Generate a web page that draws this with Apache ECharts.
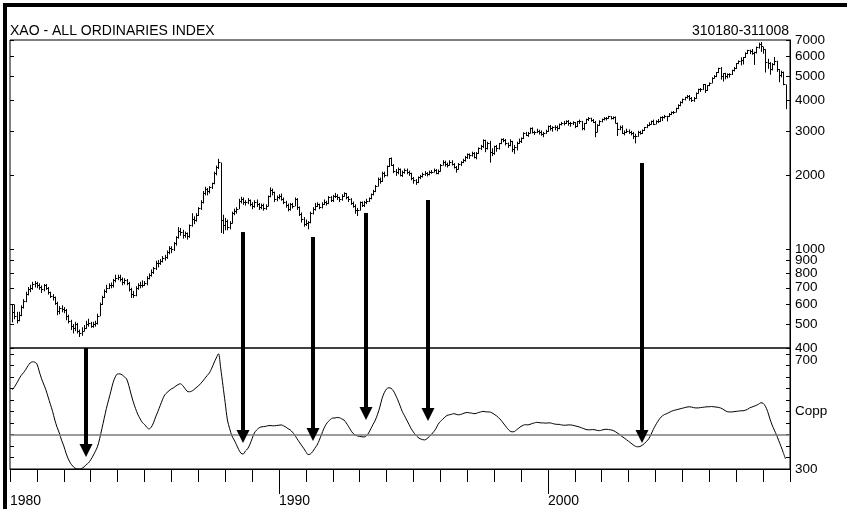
<!DOCTYPE html>
<html><head><meta charset="utf-8">
<script src="https://cdn.jsdelivr.net/npm/echarts@6/dist/echarts.min.js"></script>
<style>html,body{margin:0;padding:0;background:#fff}#c{width:847px;height:509px}</style>
</head><body><div id="c"></div>
<script>
const chartTitle = 'XAO - ALL ORDINARIES INDEX';
const rangeLabel = '310180-311008';
const startYear = 1980; // monthly bars from Jan 1980 (month-end)

const priceClose = [
 560,540,520,545,585,620,660,690,700,725,735,715,
 705,690,715,700,670,650,640,610,565,580,575,570,
 540,515,490,480,500,470,460,470,480,500,505,490,
 500,505,540,600,640,680,700,720,715,750,770,775,
 760,740,750,735,690,660,655,700,715,720,720,730,
 770,790,810,840,880,880,900,920,930,980,1010,1000,
 1060,1120,1190,1175,1140,1160,1130,1250,1330,1320,1380,1470,
 1560,1690,1750,1720,1790,1850,2030,2150,2250,1320,1250,1300,
 1230,1280,1400,1430,1460,1570,1590,1560,1550,1580,1530,1490,
 1560,1520,1480,1510,1470,1500,1640,1740,1700,1600,1620,1650,
 1600,1560,1510,1460,1520,1500,1600,1480,1390,1330,1270,1280,
 1290,1400,1460,1500,1530,1480,1530,1560,1540,1620,1580,1650,
 1640,1620,1590,1650,1690,1620,1600,1540,1500,1440,1440,1550,
 1510,1550,1570,1610,1670,1720,1810,1920,1890,2040,1990,2170,
 2330,2200,2080,2050,2110,2000,2060,2100,2050,2030,1940,1910,
 1870,1960,1970,2020,2030,2010,2060,2060,2100,2040,2080,2200,
 2260,2210,2200,2260,2220,2150,2120,2210,2260,2290,2360,2420,
 2400,2450,2360,2460,2560,2620,2760,2560,2700,2480,2460,2610,
 2560,2680,2780,2770,2680,2640,2740,2540,2590,2700,2750,2810,
 2960,2900,2960,3090,2980,2980,3010,2990,2910,2950,3000,3150,
 3100,3120,3130,3100,3200,3250,3250,3300,3230,3250,3260,3150,
 3290,3290,3100,3230,3350,3380,3320,3280,2990,3180,3300,3360,
 3380,3400,3440,3380,3430,3250,3070,3130,2960,2980,3010,2980,
 2950,2860,2870,2990,2950,3030,3110,3190,3210,3300,3220,3310,
 3290,3420,3420,3440,3450,3530,3590,3590,3720,3840,3920,4050,
 4110,4150,4070,3990,4100,4280,4420,4420,4640,4400,4590,4710,
 4930,5000,5190,5380,5030,5130,5010,5110,5100,5300,5390,5640,
 5760,5800,5960,6230,6380,6330,6220,6250,6580,6770,6600,6420,
 5690,5670,5360,5600,5770,5330,5050,5200,4630,3990
];
const priceHigh = [
 600,600,560,560,595,630,675,705,720,740,745,740,
 730,715,725,725,705,675,660,645,615,590,595,585,
 575,545,520,500,510,505,475,485,495,515,525,510,
 510,515,550,610,650,690,720,730,735,760,790,790,
 790,770,765,760,740,700,680,710,730,740,750,745,
 780,800,830,850,900,905,915,940,950,990,1030,1030,
 1070,1130,1230,1220,1200,1180,1170,1260,1400,1360,1400,1480,
 1580,1720,1790,1770,1800,1860,2060,2180,2320,2240,1380,1340,
 1320,1300,1420,1460,1480,1600,1630,1620,1580,1610,1590,1550,
 1580,1590,1540,1530,1530,1520,1650,1780,1760,1710,1650,1670,
 1680,1620,1570,1530,1540,1540,1620,1610,1490,1410,1350,1320,
 1300,1420,1480,1540,1550,1530,1550,1590,1570,1640,1640,1660,
 1690,1670,1630,1670,1700,1690,1640,1610,1560,1520,1470,1560,
 1560,1570,1600,1620,1680,1740,1820,1950,1950,2060,2060,2180,
 2340,2350,2210,2110,2140,2120,2080,2120,2120,2080,2040,1960,
 1920,1970,2000,2040,2070,2050,2080,2090,2120,2110,2100,2210,
 2290,2280,2240,2290,2290,2230,2170,2230,2270,2320,2380,2440,
 2440,2480,2470,2470,2580,2640,2780,2770,2720,2740,2560,2620,
 2640,2690,2800,2810,2790,2700,2780,2740,2640,2720,2800,2830,
 2970,2980,2980,3100,3110,3010,3070,3040,3020,2980,3040,3160,
 3180,3140,3170,3160,3220,3270,3300,3320,3330,3270,3290,3260,
 3300,3340,3300,3240,3370,3420,3400,3360,3300,3200,3320,3370,
 3420,3420,3460,3450,3440,3440,3250,3160,3170,3020,3070,3050,
 3010,2980,2930,3010,3010,3050,3120,3200,3260,3310,3340,3320,
 3360,3430,3450,3490,3460,3550,3600,3620,3730,3850,3960,4060,
 4130,4200,4200,4120,4120,4300,4450,4480,4650,4650,4600,4720,
 4950,5050,5200,5410,5440,5140,5160,5130,5140,5310,5450,5650,
 5790,5960,5980,6240,6390,6400,6440,6280,6590,6830,6870,6560,
 6420,5880,5700,5650,5980,5770,5340,5260,5220,4630
];
const priceLow = [
 510,525,505,515,540,580,615,655,675,690,705,700,
 690,670,680,690,660,640,625,600,545,550,560,555,
 520,505,475,460,470,460,445,450,470,480,490,485,
 485,490,500,540,600,640,670,695,700,705,740,755,
 745,720,725,720,680,640,640,650,690,700,705,715,
 720,760,780,800,830,850,870,890,905,920,960,970,
 990,1040,1110,1140,1110,1120,1100,1120,1240,1270,1300,1370,
 1450,1540,1660,1660,1690,1760,1840,2000,2120,1170,1160,1200,
 1200,1210,1280,1380,1400,1460,1540,1520,1510,1530,1500,1460,
 1480,1490,1450,1460,1440,1450,1500,1630,1660,1560,1570,1600,
 1580,1530,1480,1430,1440,1470,1500,1450,1370,1290,1240,1250,
 1210,1280,1390,1440,1490,1460,1470,1520,1510,1530,1560,1560,
 1620,1590,1560,1580,1640,1600,1560,1520,1480,1400,1370,1440,
 1490,1490,1530,1560,1600,1660,1710,1800,1850,1880,1960,1980,
 2160,2180,2040,1990,2020,1980,1970,2030,2020,1990,1910,1850,
 1830,1860,1930,1960,1990,1980,2000,2030,2050,2020,2020,2070,
 2190,2170,2150,2190,2190,2130,2050,2110,2180,2240,2270,2330,
 2330,2380,2340,2320,2440,2530,2580,2480,2540,2250,2390,2420,
 2490,2540,2670,2720,2640,2580,2620,2480,2440,2520,2680,2700,
 2800,2880,2860,2950,2950,2910,2960,2920,2890,2850,2940,2990,
 3030,3000,3040,3010,3070,3180,3180,3220,3170,3140,3190,3100,
 3130,3220,3040,3040,3220,3310,3290,3250,2850,2990,3170,3270,
 3330,3330,3380,3360,3360,3240,2880,3040,2940,2900,2960,2940,
 2900,2800,2690,2860,2920,2940,3020,3100,3160,3200,3190,3210,
 3250,3280,3310,3390,3300,3440,3500,3530,3580,3700,3800,3900,
 4010,4080,4000,3950,3960,4070,4270,4340,4420,4300,4380,4580,
 4700,4920,4980,5170,4870,4780,4880,4920,4960,5080,5250,5370,
 5620,5560,5600,5960,6170,6170,6130,5580,6200,6490,6300,6190,
 5200,5380,5090,5300,5560,5230,4750,4970,4620,3700
];
const coppock = [
 575,585,598,612,625,634,645,658,668,672,671,665,
 640,615,595,575,550,525,500,470,445,425,400,380,
 355,335,320,310,303,300,300,302,307,315,321,332,
 345,360,377,405,440,475,510,540,570,600,620,630,
 630,627,620,613,590,560,533,510,490,475,462,455,
 445,439,445,460,481,500,520,540,557,565,572,578,
 582,588,593,596,590,580,570,568,570,575,582,588,
 596,605,615,625,634,650,668,685,700,650,590,530,
 470,440,415,401,385,368,355,352,362,370,385,405,
 425,435,442,446,447,448,450,451,450,450,451,452,
 453,450,446,440,436,428,418,406,394,383,372,360,
 350,352,360,372,383,400,420,440,455,465,472,477,
 477,479,478,474,470,460,448,435,424,418,415,413,
 412,411,415,425,440,455,470,490,515,545,565,578,
 582,580,572,557,540,520,500,485,470,455,440,428,
 418,410,405,402,401,405,412,420,429,440,455,465,
 472,480,486,488,490,492,490,488,489,492,495,496,
 495,494,492,493,496,498,500,499,498,498,495,490,
 485,478,470,460,450,440,432,429,430,436,442,448,
 452,454,453,455,458,460,462,461,460,460,459,460,
 460,458,456,455,455,453,452,452,453,453,452,450,
 448,446,443,440,437,436,436,437,436,434,433,435,
 437,438,437,436,434,430,425,420,413,408,402,396,
 390,384,379,377,378,382,388,396,405,420,437,452,
 465,476,484,489,492,496,500,503,505,507,509,511,
 513,515,516,515,513,512,512,513,514,515,516,516,
 517,516,515,514,512,508,503,499,498,498,499,500,
 501,502,502,504,507,512,515,518,521,525,530,528,
 518,500,475,453,435,418,398,378,357,335
];
const priceTicks = [400,500,600,700,800,900,1000,2000,3000,4000,5000,6000,7000];
const decadeTicks = [1990, 2000];
const decadeLabels = [1980, 1990, 2000];
const coppLevel = 420;
const arrowYears = [1982.83, 1988.66, 1991.26, 1993.23, 1995.54, 2003.49];
const arrowFromPrice = [400, 1175, 1122, 1403, 1583, 2233];
const arrowToCopp = [342, 390, 397, 470, 467, 390];

const FONT = '"Liberation Sans", Arial, Helvetica, sans-serif';
const monthEnd = i => startYear + (i + 1) / 12;
const bars = priceClose.map((c, i) => [monthEnd(i), priceHigh[i], priceLow[i], c]);
const coppData = coppock.map((v, i) => [monthEnd(i), v]);

const chart = echarts.init(document.getElementById('c'));

function renderBar(params, api) {
  const x = api.value(0);
  const hi = api.coord([x, api.value(1)]);
  const lo = api.coord([x, api.value(2)]);
  const cl = api.coord([x, api.value(3)]);
  const px = Math.round(hi[0]) + 0.5;
  const cy = Math.round(cl[1]) + 0.5;
  return {
    type: 'group',
    children: [
      { type: 'line', shape: { x1: px, y1: hi[1], x2: px, y2: lo[1] + 0.5 }, style: { stroke: '#000', lineWidth: 1 } },
      { type: 'line', shape: { x1: px, y1: cy, x2: px + 2, y2: cy }, style: { stroke: '#000', lineWidth: 1 } }
    ]
  };
}

const blackLine = { lineStyle: { color: '#000', width: 1 } };
const plain = v => String(v);

chart.setOption({
  animation: false,
  backgroundColor: '#fff',
  textStyle: { fontFamily: FONT },
  title: [
    { text: chartTitle, left: 10, top: 24, padding: 0,
      textStyle: { fontSize: 14, fontWeight: 'normal', color: '#000', fontFamily: FONT } },
    { text: rangeLabel, right: 58, top: 24, padding: 0,
      textStyle: { fontSize: 14, fontWeight: 'normal', color: '#000', fontFamily: FONT } }
  ],
  grid: [
    { left: 10, right: 57, top: 40, height: 308, show: true, borderColor: '#000', borderWidth: 1, backgroundColor: 'transparent' },
    { left: 10, right: 57, top: 348, height: 121, show: true, borderColor: '#000', borderWidth: 1, backgroundColor: 'transparent' }
  ],
  xAxis: [
    { gridIndex: 0, type: 'value', min: 1980, max: 2009, show: false },
    { gridIndex: 1, type: 'value', min: 1980, max: 2009, interval: 1, position: 'bottom', offset: 0,
      axisLine: blackLine, axisTick: { length: 13, lineStyle: { color: '#000' } },
      axisLabel: { show: false }, splitLine: { show: false } },
    { gridIndex: 1, type: 'value', min: 1980, max: 2009, position: 'bottom', offset: 0,
      axisLine: { show: false },
      axisTick: { customValues: decadeTicks, length: 25, lineStyle: { color: '#000' } },
      axisLabel: { customValues: decadeLabels, formatter: plain, align: 'left', margin: 25, fontSize: 14, color: '#000', fontFamily: FONT },
      splitLine: { show: false } }
  ],
  yAxis: [
    { gridIndex: 0, type: 'log', min: 400, max: 7000, position: 'right',
      axisLine: { show: true, lineStyle: { color: '#000' } },
      axisTick: { inside: true, length: 4, customValues: priceTicks, lineStyle: { color: '#000' } },
      axisLabel: { customValues: priceTicks, formatter: plain, fontSize: 13.5, color: '#000', margin: 5, fontFamily: FONT },
      splitLine: { show: false } },
    { gridIndex: 0, type: 'log', min: 400, max: 7000, position: 'left',
      axisLine: { show: false },
      axisTick: { inside: true, length: 4, customValues: priceTicks, lineStyle: { color: '#000' } },
      axisLabel: { show: false }, splitLine: { show: false } },
    { gridIndex: 1, type: 'value', min: 300, max: 720, interval: 40, position: 'right',
      axisLine: { show: true, lineStyle: { color: '#000' } },
      axisTick: { inside: true, length: 4, lineStyle: { color: '#000' } },
      axisLabel: { fontSize: 13.5, color: '#000', margin: 5, fontFamily: FONT,
        formatter: v => v === 700 ? '{t|700}' : v === 500 ? 'Copp' : v === 300 ? '300' : '',
        rich: { t: { fontSize: 13.5, color: '#000', fontFamily: FONT, padding: [14, 0, 0, 0] } } },
      splitLine: { show: false } },
    { gridIndex: 1, type: 'value', min: 300, max: 720, interval: 40, position: 'left',
      axisLine: { show: false },
      axisTick: { inside: true, length: 4, lineStyle: { color: '#000' } },
      axisLabel: { show: false }, splitLine: { show: false } }
  ],
  series: [
    { type: 'custom', name: 'XAO', xAxisIndex: 0, yAxisIndex: 0, data: bars,
      encode: { x: 0, y: [1, 2, 3] }, renderItem: renderBar, clip: true },
    { type: 'line', name: 'Copp', xAxisIndex: 1, yAxisIndex: 2, data: coppData,
      showSymbol: false, smooth: 0.3, lineStyle: { color: '#000', width: 1 },
      markLine: { silent: true, symbol: 'none', label: { show: false },
        lineStyle: { color: '#7a7a7a', width: 1.5, type: 'solid' },
        data: [{ yAxis: coppLevel }] } }
  ]
});

const graphics = [
  { type: 'rect', shape: { x: 3, y: 3, width: 844, height: 4 }, style: { fill: '#000' } },
  { type: 'rect', shape: { x: 3, y: 3, width: 4, height: 506 }, style: { fill: '#000' } }
];
arrowYears.forEach((yr, i) => {
  const top = chart.convertToPixel({ xAxisIndex: 0, yAxisIndex: 0 }, [yr, arrowFromPrice[i]]);
  const tip = chart.convertToPixel({ xAxisIndex: 1, yAxisIndex: 2 }, [yr, arrowToCopp[i]]);
  const x = Math.round(top[0]);
  const headH = 13, headW = 13;
  graphics.push({ type: 'rect', z: 100,
    shape: { x: x - 2, y: top[1], width: 4, height: tip[1] - headH - top[1] + 1 },
    style: { fill: '#000' } });
  graphics.push({ type: 'polygon', z: 100,
    shape: { points: [[x - headW / 2, tip[1] - headH], [x + headW / 2, tip[1] - headH], [x, tip[1]]] },
    style: { fill: '#000' } });
});
chart.setOption({ graphic: graphics });
</script>
</body></html>
